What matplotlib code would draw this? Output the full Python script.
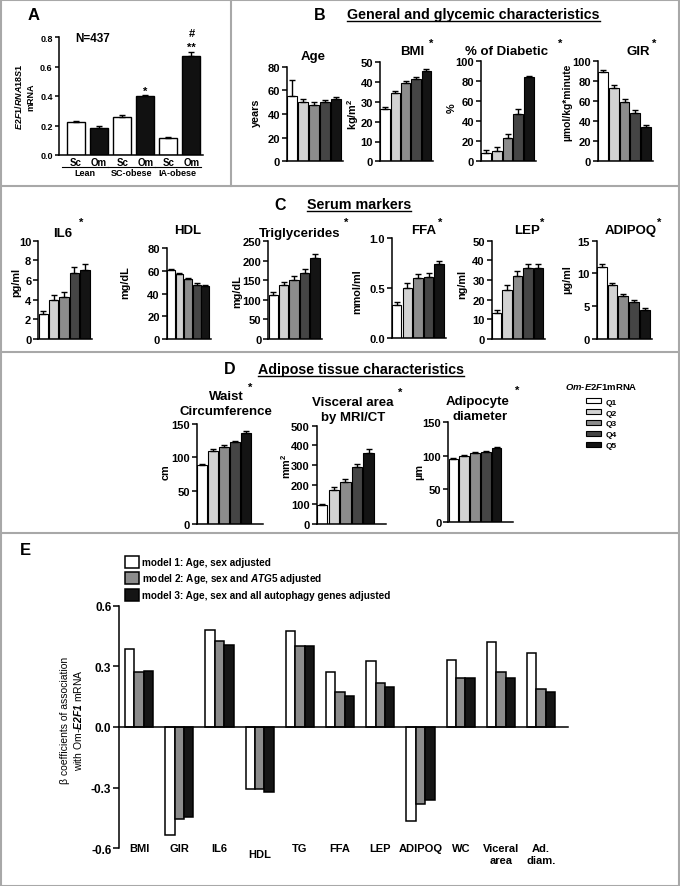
import numpy as np
import matplotlib
matplotlib.use('Agg')
import matplotlib.pyplot as plt
from matplotlib.patches import Patch, Rectangle
from matplotlib.lines import Line2D
from matplotlib.transforms import blended_transform_factory, IdentityTransform

plt.rcParams['font.family'] = ['Liberation Sans', 'DejaVu Sans']
plt.rcParams['font.weight'] = 'bold'
plt.rcParams['mathtext.fontset'] = 'custom'
plt.rcParams['mathtext.rm'] = 'Liberation Sans:bold'
plt.rcParams['mathtext.bf'] = 'Liberation Sans:bold'
plt.rcParams['mathtext.it'] = 'Liberation Sans:italic:bold'
plt.rcParams['mathtext.sf'] = 'Liberation Sans:italic'
plt.rcParams['axes.unicode_minus'] = False
plt.rcParams['axes.linewidth'] = 1.1

W, H = 680, 887
TITLE = 9.5   # small panel titles
HEAD = 10.3   # underlined section headers
YL = 7.8      # unit labels

# ---------------- data ----------------
# panel A
a_groups = ['Lean', 'SC-obese', 'IA-obese']
a_sc = [0.225, 0.26, 0.115]
a_sc_err = [0.008, 0.008, 0.006]
a_om = [0.185, 0.40, 0.67]
a_om_err = [0.015, 0.01, 0.025]

# quintiles of Om-E2F1 mRNA
quint = ['Q1', 'Q2', 'Q3', 'Q4', 'Q5']
qcolors = ['#ffffff', '#d2d2d2', '#8c8c8c', '#454545', '#141414']

age = [55, 50.5, 48, 50, 53]
age_err = [14, 2, 2, 2, 1]
bmi = [26.5, 34.5, 39.3, 41.5, 45.5]
bmi_err = [0.7, 1, 1.2, 1, 1]
diab = [8, 10, 23, 47, 84]
diab_err = [3, 4, 4.5, 5, 1.5]
gir = [89, 73, 59, 48, 34]
gir_err = [2.5, 3, 3.5, 3, 2.5]

il6 = [2.5, 4.0, 4.3, 6.7, 7.0]
il6_err = [0.3, 0.5, 0.45, 0.6, 0.6]
hdl = [60.5, 57, 52.5, 48, 47]
hdl_err = [1, 1, 1, 1, 0.7]
tg = [113, 137, 152, 170, 207]
tg_err = [7, 9, 8, 8, 10]
ffa = [0.33, 0.50, 0.60, 0.61, 0.74]
ffa_err = [0.03, 0.05, 0.04, 0.04, 0.035]
lep = [13, 25, 32, 36, 36]
lep_err = [1.5, 2.5, 2.5, 2.3, 2]
adipoq = [11, 8.2, 6.5, 5.6, 4.5]
adipoq_err = [0.5, 0.4, 0.3, 0.3, 0.2]

waist = [88, 110, 116, 123, 137]
waist_err = [2, 2, 2, 2, 2.5]
visceral = [98, 175, 212, 290, 362]
visceral_err = [5, 15, 15, 17, 20]
adipo_d = [95, 99, 104, 106, 112]
adipo_d_err = [1.5, 1.5, 1.5, 1.5, 1.5]

# panel E
e_labels = ['BMI', 'GIR', 'IL6', 'HDL', 'TG', 'FFA', 'LEP', 'ADIPOQ', 'WC',
            'Viceral\narea', 'Ad.\ndiam.']
model1 = [0.385, -0.532, 0.481, -0.306, 0.476, 0.27, 0.327, -0.463, 0.332, 0.421, 0.364]
model2 = [0.27, -0.454, 0.423, -0.306, 0.402, 0.175, 0.217, -0.383, 0.24, 0.273, 0.187]
model3 = [0.278, -0.444, 0.407, -0.322, 0.402, 0.154, 0.2, -0.362, 0.24, 0.24, 0.174]
model_names = ['model 1: Age, sex adjusted',
               r'model 2: Age, sex and $\mathit{ATG5}$ adjusted',
               'model 3: Age, sex and all autophagy genes adjusted']
model_colors = ['#ffffff', '#8c8c8c', '#151515']

fig = plt.figure(figsize=(W / 100, H / 100), dpi=100)
fig.patch.set_facecolor('white')


def add_px(l, t, r, b):
    return fig.add_axes([l / W, 1 - b / H, (r - l) / W, (b - t) / H])


def ftext(x, y, s, **kw):
    kw.setdefault('ha', 'center')
    kw.setdefault('va', 'center')
    return fig.text(x / W, 1 - y / H, s, **kw)


def qpanel(rect, vals, errs, ymax, ystep, xright=4.65):
    ax = add_px(*rect)
    x = np.arange(len(vals))
    ax.bar(x, vals, width=0.9, color=qcolors, edgecolor='k', linewidth=0.8, zorder=2)
    ax.errorbar(x, vals, yerr=[np.zeros(len(vals)), errs], fmt='none', ecolor='k',
                elinewidth=1.0, capsize=2.3, capthick=1.0, zorder=3, clip_on=False)
    ax.set_xlim(-0.47, xright)
    ax.set_ylim(0, ymax)
    ax.spines[['top', 'right']].set_visible(False)
    ax.set_xticks([])
    ax.set_yticks(np.arange(0, ymax + ystep / 2, ystep))
    ax.tick_params(axis='y', length=3.5, width=1.1, pad=1.5, labelsize=8)
    return ax


# ---------------- panel A ----------------
axA = add_px(59, 38, 203, 156)
xa = np.arange(6)
a_vals = [v for pair in zip(a_sc, a_om) for v in pair]
a_errs = [v for pair in zip(a_sc_err, a_om_err) for v in pair]
axA.bar(xa, a_vals, width=0.78, color=['white', '#111111'] * 3, edgecolor='k',
        linewidth=1.0, zorder=2)
axA.errorbar(xa, a_vals, yerr=[np.zeros(6), a_errs], fmt='none', ecolor='k',
             elinewidth=1.0, capsize=2.5, capthick=1.0, zorder=3)
axA.set_xlim(-0.74, 5.5)
axA.set_ylim(0, 0.8)
axA.set_yticks([0, 0.2, 0.4, 0.6, 0.8])
axA.spines[['top', 'right']].set_visible(False)
axA.set_xticks(xa, ['Sc', 'Om'] * 3)
axA.tick_params(axis='x', length=0, pad=1.5, labelsize=7)
axA.tick_params(axis='y', length=3, width=1.1, pad=1.5, labelsize=6.5)
trA = blended_transform_factory(axA.transData, axA.transAxes)
for g, name in enumerate(a_groups):
    axA.plot([2 * g - 0.6, 2 * g + 1.4], [-0.10, -0.10], transform=trA,
             color='k', lw=0.8, clip_on=False)
    axA.text(2 * g + 0.4, -0.15, name, transform=trA, ha='center', va='center',
             fontsize=6.5)
axA.text(3, 0.435, '*', ha='center', va='center', fontsize=8)
axA.text(5, 0.735, '**', ha='center', va='center', fontsize=8)
axA.text(5, 0.83, '#', ha='center', va='center', fontsize=8)
axA.text(0.7, 0.79, 'N=437', ha='center', va='center', fontsize=8.5)
ftext(24, 97, '$\\mathit{E2F1/RNA18S1}$\nmRNA', rotation=90, fontsize=6.5,
      linespacing=1.3)
ftext(34, 15, 'A', fontsize=12)

# ---------------- panel B ----------------
ftext(320, 15, 'B', fontsize=11.5)
hdr_B = ftext(347, 15, 'General and glycemic characteristics', ha='left', fontsize=HEAD)

qpanel((287, 67.7, 343, 162.3), age, age_err, 80, 20)
qpanel((380, 63.3, 433, 162.3), bmi, bmi_err, 50, 10)
qpanel((481, 62.3, 536, 162.3), diab, diab_err, 100, 20)
qpanel((598, 62.3, 653, 162.3), gir, gir_err, 100, 20)

ftext(313, 57, 'Age', fontsize=TITLE)
ftext(412, 52, 'BMI', fontsize=TITLE)
ftext(431, 44, '*', fontsize=8)
ftext(507, 52, '% of Diabetic', fontsize=TITLE)
ftext(560, 44, '*', fontsize=8)
ftext(638, 52, 'GIR', fontsize=TITLE)
ftext(654, 44, '*', fontsize=8)
ftext(256, 113, 'years', rotation=90, fontsize=YL)
ftext(353, 114, 'kg/m$^2$', rotation=90, fontsize=YL)
ftext(452, 108, '%', rotation=90, fontsize=YL)
ftext(567, 102, '\u00b5mol/kg*minute', rotation=90, fontsize=7.4)

# ---------------- panel C ----------------
ftext(280, 205, 'C', fontsize=11.5)
hdr_C = ftext(307, 205, 'Serum markers', ha='left', fontsize=HEAD)

qpanel((38.3, 241.7, 91.7, 340), il6, il6_err, 10, 2)
qpanel((166.7, 249.3, 211, 340), hdl, hdl_err, 80, 20)
qpanel((268.3, 242.3, 322, 340), tg, tg_err, 250, 50)
qpanel((391.7, 239.3, 446, 339.3), ffa, ffa_err, 1.0, 0.5)
qpanel((491.7, 241.7, 545, 340), lep, lep_err, 50, 10)
qpanel((596.7, 241.7, 651.7, 340), adipoq, adipoq_err, 15, 5)

ftext(63, 234, 'IL6', fontsize=TITLE)
ftext(81, 223, '*', fontsize=8)
ftext(188, 231, 'HDL', fontsize=TITLE)
ftext(300, 234.5, 'Triglycerides', fontsize=TITLE)
ftext(346, 223, '*', fontsize=8)
ftext(424, 231, 'FFA', fontsize=TITLE)
ftext(440, 223, '*', fontsize=8)
ftext(527, 231, 'LEP', fontsize=TITLE)
ftext(542, 223, '*', fontsize=8)
ftext(631, 231, 'ADIPOQ', fontsize=TITLE)
ftext(659, 223, '*', fontsize=8)
ftext(16, 282, 'pg/ml', rotation=90, fontsize=YL)
ftext(125, 283, 'mg/dL', rotation=90, fontsize=YL)
ftext(237, 292, 'mg/dL', rotation=90, fontsize=YL)
ftext(357, 292, 'mmol/ml', rotation=90, fontsize=YL)
ftext(462, 284, 'ng/ml', rotation=90, fontsize=YL)
ftext(567, 280, '\u00b5g/ml', rotation=90, fontsize=YL)

# ---------------- panel D ----------------
ftext(230, 370, 'D', fontsize=11.5)
hdr_D = ftext(258, 370, 'Adipose tissue characteristics', ha='left', fontsize=HEAD)

qpanel((197, 425, 263, 525), waist, waist_err, 150, 50, xright=5.5)
qpanel((316.7, 426.7, 386, 525), visceral, visceral_err, 500, 100, xright=5.5)
qpanel((448.3, 423.3, 512.7, 523), adipo_d, adipo_d_err, 150, 50, xright=5.5)

ftext(226, 397, 'Waist', fontsize=TITLE)
ftext(250, 388, '*', fontsize=8)
ftext(226, 412, 'Circumference', fontsize=TITLE)
ftext(353, 402.7, 'Visceral area', fontsize=TITLE)
ftext(400, 393, '*', fontsize=8)
ftext(353, 417.7, 'by MRI/CT', fontsize=TITLE)
ftext(478, 401.7, 'Adipocyte', fontsize=TITLE)
ftext(517, 391, '*', fontsize=8)
ftext(480, 416.7, 'diameter', fontsize=TITLE)
ftext(166, 472, 'cm', rotation=90, fontsize=YL)
ftext(286, 466, 'mm$^2$', rotation=90, fontsize=YL)
ftext(419, 472, '\u00b5m', rotation=90, fontsize=YL)

ftext(601, 387, '$\\mathit{Om}$-$\\mathit{E2F1}$mRNA', fontsize=6.8)
fig.legend([Patch(facecolor=c, edgecolor='k', linewidth=0.8) for c in qcolors], quint,
           loc='upper left', bbox_to_anchor=(586 / W, 1 - 399 / H), frameon=False,
           fontsize=6, handlelength=1.8, handleheight=0.6, labelspacing=0.4,
           handletextpad=0.5, borderpad=0, borderaxespad=0)

# ---------------- panel E ----------------
ftext(25, 551, 'E', fontsize=12)
axE = add_px(119, 606.7, 567.7, 849.3)
xe = np.arange(len(e_labels))
bw = 0.233
for k, (vals, col) in enumerate(zip([model1, model2, model3], model_colors)):
    axE.bar(xe + (k - 1) * bw, vals, width=bw, color=col, edgecolor='k',
            linewidth=1.1, zorder=2)
axE.set_xlim(-0.5, 10.66)
axE.set_ylim(-0.6, 0.6)
axE.set_yticks([-0.6, -0.3, 0.0, 0.3, 0.6])
axE.set_xticks([])
axE.spines[['top', 'right']].set_visible(False)
axE.spines['bottom'].set_position(('data', 0))
axE.tick_params(axis='y', length=4, width=1.1, pad=1.5, labelsize=8.5)
for i, lab in enumerate(e_labels):
    axE.text(i, -0.603 if lab == 'HDL' else -0.575, lab, ha='center', va='top',
             fontsize=8, linespacing=1.2)
ftext(72, 720, '\u03b2 coefficients of association\nwith Om-$\\mathsf{E2F1}$ mRNA',
      rotation=90, fontsize=7.5, fontweight='normal', linespacing=1.2)
fig.legend([Patch(facecolor=c, edgecolor='k', linewidth=1.1) for c in model_colors],
           model_names, loc='upper left', bbox_to_anchor=(125 / W, 1 - 557 / H),
           frameon=False, fontsize=7.2, handlelength=1.4, handleheight=1.4,
           labelspacing=0.38, handletextpad=0.25, borderpad=0, borderaxespad=0)

# ---------------- panel frames ----------------
gray = '#a8a8a8'
fig.add_artist(Rectangle((0.5 / W, 0.5 / H), 1 - 1.5 / W, 1 - 1.5 / H,
                         transform=fig.transFigure, fill=False, edgecolor=gray, lw=1.5))
for (x0, y0, x1, y1) in [(231, 0, 231, 187), (0, 187, 680, 187),
                         (0, 353, 680, 353), (0, 534, 680, 534)]:
    fig.add_artist(Line2D([x0 / W, x1 / W], [1 - y0 / H, 1 - y1 / H],
                          transform=fig.transFigure, color=gray, lw=1.5))

# underline the section headers
fig.canvas.draw()
renderer = fig.canvas.get_renderer()
for t in [hdr_B, hdr_C, hdr_D]:
    bb = t.get_window_extent(renderer)
    fig.add_artist(Line2D([bb.x0, bb.x1], [bb.y0 + 0.5, bb.y0 + 0.5],
                          transform=IdentityTransform(), color='k', lw=1.0))

fig.savefig('out.png', dpi=100)
